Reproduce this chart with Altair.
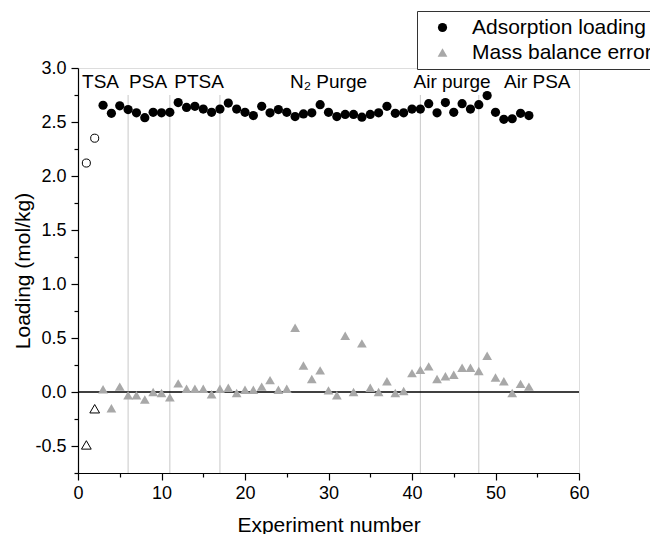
import altair as alt
import pandas as pd

FONT = "Liberation Sans"

# ---- data ----
exp_open = [1, 2]
loading_open = [2.12, 2.35]
error_open = [-0.49, -0.155]

exp_num = list(range(3, 55))
loading = [2.655, 2.58, 2.65, 2.615, 2.585, 2.54, 2.59, 2.585, 2.59, 2.68,
           2.635, 2.645, 2.62, 2.59, 2.62, 2.675, 2.62, 2.59, 2.56, 2.645,
           2.585, 2.615, 2.59, 2.55, 2.575, 2.585, 2.66, 2.59, 2.55, 2.57,
           2.57, 2.545, 2.57, 2.585, 2.645, 2.58, 2.585, 2.62, 2.62, 2.67,
           2.585, 2.68, 2.59, 2.67, 2.62, 2.66, 2.745, 2.59, 2.525, 2.53,
           2.58, 2.56]
mb_error = [0.025, -0.15, 0.05, -0.03, -0.03, -0.07, 0.0, -0.01, -0.05, 0.08,
            0.03, 0.03, 0.03, -0.02, 0.03, 0.04, -0.01, 0.02, 0.02, 0.05,
            0.11, 0.02, 0.03, 0.595, 0.245, 0.12, 0.20, 0.015, -0.03, 0.52,
            0.0, 0.45, 0.04, 0.0, 0.10, -0.01, 0.01, 0.175, 0.205, 0.237,
            0.12, 0.145, 0.16, 0.225, 0.225, 0.195, 0.335, 0.135, 0.10, -0.01,
            0.075, 0.05]

series_names = ["Adsorption loading", "Mass balance error"]

phase_x = [6, 11, 17, 41, 48]
phase_top = 2.75
phase_bottom = -0.75

phase_labels = ["TSA", "PSA", "PTSA", "N\u2082 Purge", "Air purge", "Air PSA"]
label_x = [2.7, 8.4, 14.5, 30.0, 44.8, 55.0]
label_y = [2.815] * 6

x_domain = [0, 60]
y_domain = [-0.75, 3.0]
x_ticks = [0, 10, 20, 30, 40, 50, 60]
x_minor = [5, 15, 25, 35, 45, 55]
y_ticks = [-0.5, 0.0, 0.5, 1.0, 1.5, 2.0, 2.5, 3.0]
y_minor = [-0.75, -0.25, 0.25, 0.75, 1.25, 1.75, 2.25, 2.75]

# ---- tables ----
filled_df = pd.DataFrame({
    "exp": exp_num + exp_num,
    "value": loading + mb_error,
    "series": [series_names[0]] * len(exp_num) + [series_names[1]] * len(exp_num),
})
open_c_df = pd.DataFrame({"exp": exp_open, "value": loading_open})
open_t_df = pd.DataFrame({"exp": exp_open, "value": error_open})
phase_df = pd.DataFrame({"x": phase_x, "top": [phase_top] * len(phase_x),
                         "bottom": [phase_bottom] * len(phase_x)})
zero_df = pd.DataFrame({"x0": [x_domain[0]], "x1": [x_domain[1]], "y": [0.0]})
label_df = pd.DataFrame({"x": label_x, "y": label_y, "text": phase_labels})

xs = alt.Scale(domain=x_domain, nice=False, zero=False)
ys = alt.Scale(domain=y_domain, nice=False, zero=False)

major_x = alt.Axis(orient="bottom", values=x_ticks, format="d", grid=False,
                   tickSize=7, tickWidth=1.2, tickColor="black",
                   domainColor="black", domainWidth=1.2,
                   labelFontSize=18, labelColor="black", labelFont=FONT,
                   labelPadding=4, labelFlush=False,
                   title="Experiment number", titleFontSize=21,
                   titleFontWeight="normal", titleColor="black", titleFont=FONT,
                   titleY=58, titleBaseline="alphabetic")
major_y = alt.Axis(orient="left", values=y_ticks, grid=False,
                   labelExpr="datum.value < 0 ? '-' + format(-datum.value, '.1f') : format(datum.value, '.1f')",
                   tickSize=7, tickWidth=1.2, tickColor="black",
                   domainColor="black", domainWidth=1.2,
                   labelFontSize=18, labelColor="black", labelFont=FONT,
                   labelPadding=5, labelFlush=False,
                   title="Loading (mol/kg)", titleFontSize=21,
                   titleFontWeight="normal", titleColor="black", titleFont=FONT,
                   titleX=-49, titleBaseline="alphabetic")
minor_x = alt.Axis(orient="bottom", values=x_minor, labels=False, title=None,
                   domain=False, grid=False, tickSize=4, tickWidth=1.2,
                   tickColor="black")
minor_y = alt.Axis(orient="left", values=y_minor, labels=False, title=None,
                   domain=False, grid=False, tickSize=4, tickWidth=1.2,
                   tickColor="black")

legend = alt.Legend(orient="none", legendX=339, legendY=-57, title=None,
                    strokeColor="#333333", fillColor="white", padding=6,
                    rowPadding=3, symbolOffset=9, labelOffset=19,
                    labelFontSize=21, labelColor="black", labelFont=FONT,
                    labelLimit=400, symbolSize=50, symbolStrokeWidth=0)

vlines = alt.Chart(phase_df).mark_rule(color="#c8c8c8", strokeWidth=1).encode(
    x=alt.X("x:Q", scale=xs, axis=None),
    y=alt.Y("top:Q", scale=ys, axis=None),
    y2="bottom:Q",
)

zero = alt.Chart(zero_df).mark_rule(color="black", strokeWidth=1.5).encode(
    x=alt.X("x0:Q", scale=xs, axis=minor_x),
    x2="x1:Q",
    y=alt.Y("y:Q", scale=ys, axis=minor_y),
)

filled = alt.Chart(filled_df).mark_point(filled=True, opacity=1, strokeWidth=0).encode(
    x=alt.X("exp:Q", scale=xs, axis=major_x),
    y=alt.Y("value:Q", scale=ys, axis=major_y),
    color=alt.Color("series:N", scale=alt.Scale(domain=series_names, range=["black", "#a8a8a8"]),
                    legend=legend),
    shape=alt.Shape("series:N", scale=alt.Scale(domain=series_names, range=["circle", "triangle-up"]),
                    legend=legend),
    size=alt.Size("series:N", scale=alt.Scale(domain=series_names, range=[85, 95]), legend=None),
)

open_c = alt.Chart(open_c_df).mark_point(shape="circle", filled=False, color="black",
                                        size=65, strokeWidth=1, opacity=1).encode(
    x=alt.X("exp:Q", scale=xs, axis=None),
    y=alt.Y("value:Q", scale=ys, axis=None),
)
open_t = alt.Chart(open_t_df).mark_point(shape="triangle-up", filled=False, color="black",
                                        size=95, strokeWidth=1, opacity=1).encode(
    x=alt.X("exp:Q", scale=xs, axis=None),
    y=alt.Y("value:Q", scale=ys, axis=None),
)

labels = alt.Chart(label_df).mark_text(fontSize=19, font=FONT, color="black",
                                       align="center", baseline="alphabetic").encode(
    x=alt.X("x:Q", scale=xs, axis=None),
    y=alt.Y("y:Q", scale=ys, axis=None),
    text="text:N",
)

chart = alt.layer(vlines, zero, filled, open_c, open_t, labels).resolve_axis(
    x="independent", y="independent"
).properties(
    width=501, height=405,
    autosize=alt.AutoSizeParams(type="none"),
    padding={"left": 78, "top": 68, "right": 71, "bottom": 61},
).configure_view(stroke=None).configure(font=FONT)

chart.save("out.html", embed_options={"renderer": "svg", "actions": False})
